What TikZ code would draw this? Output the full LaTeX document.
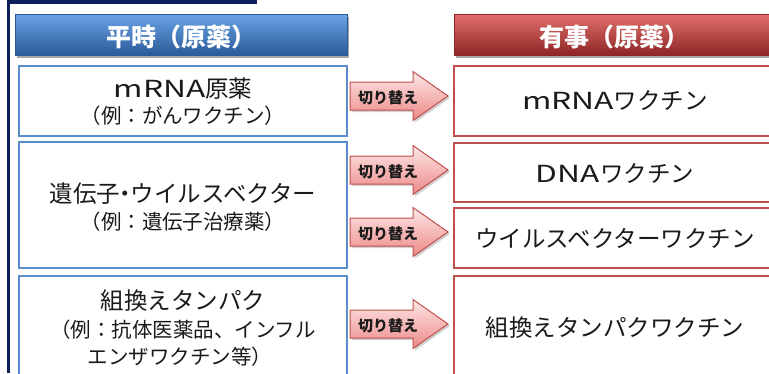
\documentclass[tikz,border=0pt]{standalone}
\usepackage{fontspec}
\setmainfont{Noto Sans CJK JP}
\newfontfamily\widelat{Noto Sans CJK JP}[FakeStretch=1.35]
\usetikzlibrary{shadows}
\definecolor{navy}{HTML}{0E1F5B}
\definecolor{lblue}{HTML}{5B8CCB}
\definecolor{lred}{HTML}{C0504D}
\definecolor{bhtop}{HTML}{6AA4E6}
\definecolor{bhmid}{HTML}{3F7CCB}
\definecolor{bhbot}{HTML}{2A5A99}
\definecolor{rhtop}{HTML}{E2706C}
\definecolor{rhmid}{HTML}{C13D3B}
\definecolor{rhbot}{HTML}{8E2625}
\definecolor{artop}{HTML}{FDE6E6}
\definecolor{arbot}{HTML}{EC8A88}
\definecolor{txt}{HTML}{1A1A1A}
\newcommand\kiriarrow[2]{%
  \fill[black,opacity=.18] (352,#1-12) -- (415,#1-12) -- (415,#1-22.5) -- (450,#1+2) -- (415,#1+26.5) -- (415,#1+16) -- (352,#1+16) -- cycle;
  \path[draw=lred,line width=1pt,top color=artop,bottom color=arbot]
    (350,#1-14) -- (413,#1-14) -- (413,#1-24.5) -- (448,#1) -- (413,#1+24.5) -- (413,#1+14) -- (350,#1+14) -- cycle;
  \node[kirilabel] (#2) at (388,#1+4) {切り替え};
}
\begin{document}
\begin{tikzpicture}[x=1pt,y=-1pt,
  every node/.style={inner sep=0pt,outer sep=0pt},
  head/.style={anchor=north west,minimum height=41pt,
     drop shadow={shadow xshift=2pt,shadow yshift=-3pt,opacity=.35,fill=black}},
  bluehead/.style={head,top color=bhtop,middle color=bhmid,bottom color=bhbot,draw=bhbot,line width=.6pt},
  redhead/.style={head,top color=rhtop,middle color=rhmid,bottom color=rhbot,draw=rhbot,line width=.6pt},
  headtext/.style={text=white,font=\bfseries\fontsize{25}{28}\selectfont},
  lbox/.style={draw=lblue,line width=1.4pt,fill=white,anchor=north west},
  rbox/.style={draw=lred,line width=1.6pt,fill=white,anchor=north west},
  big/.style={text=txt,font=\fontsize{23.5}{26}\selectfont,text height=.8em,text depth=.05em},
  small/.style={text=txt,font=\fontsize{20.5}{24}\selectfont,text height=.8em,text depth=.05em},
  kirilabel/.style={text=txt,font=\bfseries\fontsize{15}{17}\selectfont,text height=.8em,text depth=.05em}]
\useasboundingbox (0,0) rectangle (769,373);
% frame
\fill[navy] (8,0) rectangle (257,4);
\fill[navy] (7,0) rectangle (10,373);
% headers
\node[bluehead,minimum width=332pt] (hb) at (15,14) {};
\node[headtext] (hbt) at (181,37) {平時（原薬）};
\node[redhead,minimum width=340pt] (hr) at (454,14) {};
\node[headtext] (hrt) at (614,37) {有事（原薬）};
% left boxes
\node[lbox,minimum width=328pt,minimum height=70pt] (l1) at (19,66) {};
\node[lbox,minimum width=328pt,minimum height=126pt] (l2) at (19,142) {};
\node[lbox,minimum width=328pt,minimum height=114pt] (l3) at (19,276) {};
% right boxes
\node[rbox,minimum width=340pt,minimum height=70pt] (r1) at (454,66) {};
\node[rbox,minimum width=340pt,minimum height=59pt] (r2) at (454,143) {};
\node[rbox,minimum width=340pt,minimum height=60pt] (r3) at (454,208) {};
\node[rbox,minimum width=340pt,minimum height=114pt] (r4) at (454,276) {};
% left texts
\node[big] (l1a) at (183,94) {{\widelat mRNA}原薬};
\node[small] (l1b) at (183,120) {（例：がんワクチン）};
\node[big] (l2a) at (183,199) {遺伝子\kern-.28em・\kern-.28em ウイルスベクター};
\node[small] (l2b) at (183,226) {（例：遺伝子治療薬）};
\node[big] (l3a) at (183,306) {組換えタンパク};
\node[small] (l3b) at (183,334) {（例：抗体医薬品、インフル};
\node[small] (l3c) at (180,361) {エンザワクチン等）};
% right texts
\node[big] (r1a) at (615,106) {{\widelat mRNA}ワクチン};
\node[big] (r2a) at (615,179) {{\widelat DNA}ワクチン};
\node[big] (r3a) at (615,244) {ウイルスベクターワクチン};
\node[big] (r4a) at (615,333) {組換えタンパクワクチン};
% arrows
\kiriarrow{96}{k1}
\kiriarrow{170}{k2}
\kiriarrow{232}{k3}
\kiriarrow{324}{k4}
\end{tikzpicture}
\end{document}
